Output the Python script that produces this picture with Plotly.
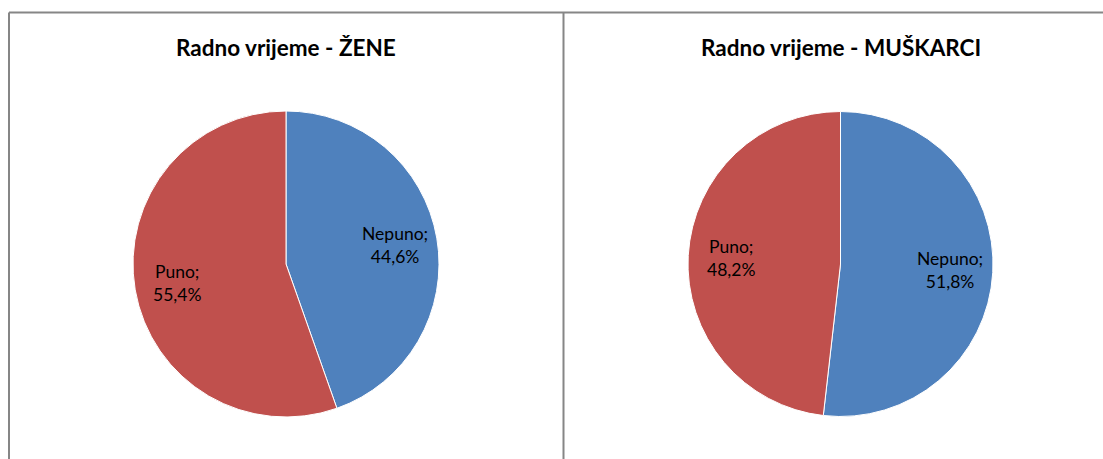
import math
import plotly.graph_objects as go

categories = ["Nepuno", "Puno"]
zene_values = [44.6, 55.4]
muskarci_values = [51.8, 48.2]
titles = ["Radno vrijeme - ŽENE", "Radno vrijeme - MUŠKARCI"]
colors = ["#4F81BD", "#C0504D"]

W, H = 1103, 459
FONT = "Lato"
LABEL_R = 0.72  # radial position of the data labels (fraction of radius)

fig = go.Figure()

domains = [
    dict(x=[133 / W, 439 / W], y=[(H - 417) / H, (H - 111) / H]),
    dict(x=[688 / W, 993 / W], y=[(H - 417) / H, (H - 111) / H]),
]

for vals, dom in zip([zene_values, muskarci_values], domains):
    fig.add_trace(go.Pie(
        labels=categories,
        values=vals,
        sort=False,
        direction="clockwise",
        rotation=0,
        marker=dict(colors=colors, line=dict(color="white", width=1)),
        textinfo="none",
        hoverinfo="label+percent",
        domain=dom,
        showlegend=False,
    ))
    # data labels placed radially from the slice mid-angles
    cx = (dom["x"][0] + dom["x"][1]) / 2 * W
    cy = (1 - (dom["y"][0] + dom["y"][1]) / 2) * H
    r = min((dom["x"][1] - dom["x"][0]) * W, (dom["y"][1] - dom["y"][0]) * H) / 2
    total = sum(vals)
    start = 0.0
    for lab, v in zip(categories, vals):
        mid = (start + v / 2) / total * 2 * math.pi
        start += v
        px = cx + LABEL_R * r * math.sin(mid)
        py = cy - LABEL_R * r * math.cos(mid)
        pct = f"{v / total * 100:.1f}".replace(".", ",")
        fig.add_annotation(
            text=f"{lab};<br>{pct}%",
            x=px / W, y=1 - py / H, xref="paper", yref="paper",
            xanchor="center", yanchor="middle", showarrow=False,
            font=dict(family=FONT, size=17.5, color="black"),
        )

for t, dom in zip(titles, domains):
    fig.add_annotation(
        text="<b>" + t + "</b>",
        x=(dom["x"][0] + dom["x"][1]) / 2, y=1 - 47 / H,
        xref="paper", yref="paper", xanchor="center", yanchor="middle",
        showarrow=False, font=dict(family=FONT, size=22.5, color="black"),
    )

line_style = dict(color="#868686", width=2)
fig.add_shape(type="line", xref="paper", yref="paper",
              x0=9 / W, x1=1, y0=1 - 12.5 / H, y1=1 - 12.5 / H, line=line_style)
fig.add_shape(type="line", xref="paper", yref="paper",
              x0=9 / W, x1=9 / W, y0=0, y1=1 - 12.5 / H, line=line_style)
fig.add_shape(type="line", xref="paper", yref="paper",
              x0=563.5 / W, x1=563.5 / W, y0=0, y1=1 - 12.5 / H, line=line_style)

fig.update_layout(
    width=W, height=H,
    margin=dict(l=0, r=0, t=0, b=0),
    paper_bgcolor="white", plot_bgcolor="white",
    separators=", ",
    font=dict(family=FONT),
)

fig.write_html("out.html", config={"displayModeBar": False},
               post_script="document.body.style.margin='0';document.body.style.overflow='hidden';")
